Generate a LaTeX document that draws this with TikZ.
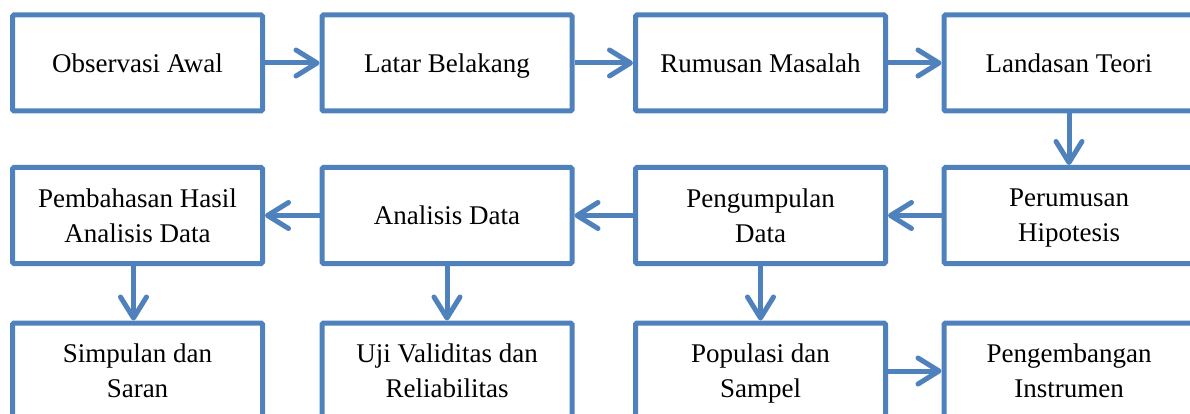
\documentclass[tikz,border=0pt]{standalone}
\usepackage{fontspec}
\setmainfont{Liberation Serif}
\usetikzlibrary{arrows.meta}
\definecolor{boxblue}{RGB}{79,129,189}
\newcommand\nd[1]{\raisebox{0pt}[\height][0pt]{#1}}
\begin{document}
\begin{tikzpicture}[x=1pt,y=-1pt,
  box/.style={draw=boxblue, line width=5pt, rounded corners=1.5pt,
    minimum width=250pt, minimum height=96pt, inner sep=0pt, align=center,
    font=\fontsize{27}{35}\selectfont},
  conn/.style={draw=boxblue, line width=5pt,
    -{Straight Barb[length=21pt,width=26pt,round]}}]
\useasboundingbox (0,0) rectangle (1190,414);
\clip (0,0) rectangle (1190,414);
% row 1
\node[box] (obs) at (137.5,63) {Observasi Awal};
\node[box] (lat) at (447,63) {\nd{Latar Belakang}};
\node[box] (rum) at (760.5,63) {Rumusan Masalah};
\node[box] (lan) at (1069,63) {Landasan Teori};
% row 2
\node[box] (pem) at (137.5,215.5) {Pembahasan Hasil\\\nd{Analisis Data}};
\node[box] (ana) at (447,215.5) {Analisis Data};
\node[box] (pen) at (760.5,215.5) {Pengumpulan\\\nd{Data}};
\node[box] (per) at (1069,215.5) {Perumusan\\\nd{Hipotesis}};
% row 3
\node[box] (sim) at (137.5,371) {Simpulan dan\\\nd{Saran}};
\node[box] (uji) at (447,371) {Uji Validitas dan\\\nd{Reliabilitas}};
\node[box] (pop) at (760.5,371) {Populasi dan\\\nd{Sampel}};
\node[box] (peg) at (1069,371) {Pengembangan\\\nd{Instrumen}};
% connectors
\draw[conn] (obs.east) -- (lat.west);
\draw[conn] (lat.east) -- (rum.west);
\draw[conn] (rum.east) -- (lan.west);
\draw[conn] (lan.south) -- (per.north);
\draw[conn] (per.west) -- (pen.east);
\draw[conn] (pen.west) -- (ana.east);
\draw[conn] (ana.west) -- (pem.east);
\draw[conn] ([xshift=-4pt]pem.south) -- ([xshift=-4pt]sim.north);
\draw[conn] (ana.south) -- (uji.north);
\draw[conn] (pen.south) -- (pop.north);
\draw[conn] (pop.east) -- (peg.west);
\end{tikzpicture}
\end{document}
